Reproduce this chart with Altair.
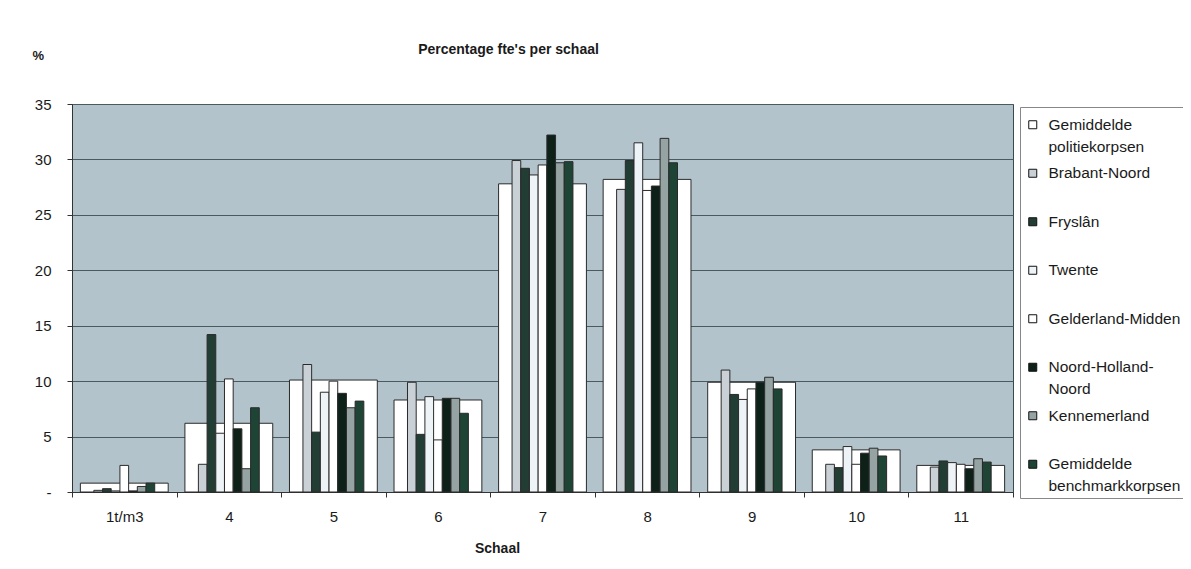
import altair as alt
import pandas as pd

categories = ["1t/m3", "4", "5", "6", "7", "8", "9", "10", "11"]

gem_politie = [0.8, 6.2, 10.1, 8.3, 27.8, 28.2, 9.9, 3.8, 2.4]
brabant = [0.15, 2.5, 11.5, 9.9, 29.9, 27.3, 11.0, 2.5, 2.25]
fryslan = [0.3, 14.2, 5.4, 5.2, 29.2, 29.9, 8.8, 2.2, 2.8]
twente = [0.1, 5.3, 9.0, 8.6, 28.6, 31.5, 8.35, 4.1, 2.65]
gelderland = [2.4, 10.2, 10.0, 4.7, 29.5, 27.2, 9.3, 2.5, 2.5]
noordholland = [0.1, 5.7, 8.9, 8.45, 32.2, 27.6, 9.9, 3.5, 2.1]
kennemerland = [0.5, 2.1, 7.6, 8.45, 29.7, 31.9, 10.35, 3.95, 3.0]
gem_bench = [0.8, 7.6, 8.2, 7.1, 29.8, 29.7, 9.3, 3.25, 2.7]

wide_name = "Gemiddelde politiekorpsen"
series_names = ["Brabant-Noord", "Fryslân", "Twente", "Gelderland-Midden",
                "Noord-Holland-Noord", "Kennemerland", "Gemiddelde benchmarkkorpsen"]
series_values = [brabant, fryslan, twente, gelderland, noordholland, kennemerland, gem_bench]
all_names = [wide_name] + series_names
colors = ["#ffffff", "#c9d1d7", "#223d33", "#eef3f8", "#ffffff", "#0e2119", "#96a3a3", "#1d4434"]

# empty slots on both sides of the narrow bars inside each group
offset_domain = ["_l1", "_l2"] + series_names + ["_r1", "_r2"]

wide_df = pd.DataFrame({"Schaal": categories, "reeks": wide_name, "waarde": gem_politie})
rows = []
for name, vals in zip(series_names, series_values):
    for c, v in zip(categories, vals):
        rows.append({"Schaal": c, "reeks": name, "waarde": v})
narrow_df = pd.DataFrame(rows)

FONT = "Liberation Sans"
TXT = "#1a1a1a"

x_enc = alt.X(
    "Schaal:N", sort=categories,
    scale=alt.Scale(paddingInner=0, paddingOuter=0),
    axis=alt.Axis(title="Schaal", labelAngle=0, tickBand="extent", tickSize=5,
                  tickColor="#333333", domainColor="#333333", labelPadding=12,
                  labelFontSize=15, labelColor=TXT, titleFontSize=14,
                  titleFontWeight="bold", titleColor=TXT, titleX=425, titleY=56,
                  titleAlign="center", titleBaseline="middle", grid=False),
)
y_enc = alt.Y(
    "waarde:Q",
    scale=alt.Scale(domain=[0, 35], nice=False),
    axis=alt.Axis(title="%", values=[0, 5, 10, 15, 20, 25, 30, 35],
                  labelExpr="datum.value == 0 ? '-' : datum.label",
                  grid=True, gridColor="#4a5a5e", gridWidth=1, tickSize=5,
                  tickColor="#333333", domainColor="#333333", labelPadding=16,
                  labelFontSize=15, labelColor=TXT, titleAngle=0,
                  titleX=-40, titleY=-49, titleAlign="left", titleBaseline="middle",
                  titleFontSize=13, titleFontWeight="bold", titleColor=TXT),
)

label_expr = ("datum.label == 'Gemiddelde politiekorpsen' ? ['Gemiddelde','politiekorpsen'] : "
              "datum.label == 'Noord-Holland-Noord' ? ['Noord-Holland-','Noord'] : "
              "datum.label == 'Gemiddelde benchmarkkorpsen' ? ['Gemiddelde','benchmarkkorpsen'] : "
              "[datum.label, '']")

# square symbol drawn a little lower so that it sits next to the first label line
symbol_path = "M-1,0.75H1V2.75H-1Z"

color_enc = alt.Color(
    "reeks:N",
    scale=alt.Scale(domain=all_names, range=colors),
    legend=alt.Legend(title=None, orient="none", legendX=948, legendY=3,
                      symbolType=symbol_path, symbolSize=64, symbolStrokeColor="#111111",
                      symbolStrokeWidth=1, labelFontSize=15.5, labelColor=TXT,
                      labelExpr=label_expr, labelBaseline="top", labelLimit=400,
                      rowPadding=2.5, padding=3, strokeColor="#888888",
                      fillColor="#ffffff", labelOffset=8, symbolOffset=2),
)

wide = alt.Chart(wide_df).mark_bar(
    width=alt.RelativeBandSize(0.84), stroke="#2a2a2a", strokeWidth=1
).encode(x=x_enc, y=y_enc, color=color_enc)

narrow = alt.Chart(narrow_df).mark_bar(stroke="#2a2a2a", strokeWidth=1).encode(
    x=x_enc, y=y_enc, color=color_enc,
    xOffset=alt.XOffset("reeks:N",
                        scale=alt.Scale(domain=offset_domain, paddingInner=0, paddingOuter=0.51)),
)

chart = alt.layer(wide, narrow).properties(
    width=941, height=388,
    autosize=alt.AutoSizeParams(type="none"),
    padding={"left": 64, "top": 96, "right": 170, "bottom": 68},
    title=alt.TitleParams("Percentage fte's per schaal", anchor="middle", frame="group",
                          offset=0, dx=-34, dy=8,
                          fontSize=14, fontWeight="bold", color=TXT, font=FONT),
).configure(
    font=FONT, style={"guide-label": {"lineHeight": 22}}
).configure_view(
    fill="#b3c3cb", stroke="#3a4a4e", strokeWidth=1
)

chart.save("out.html", embed_options={"renderer": "svg", "actions": False})
